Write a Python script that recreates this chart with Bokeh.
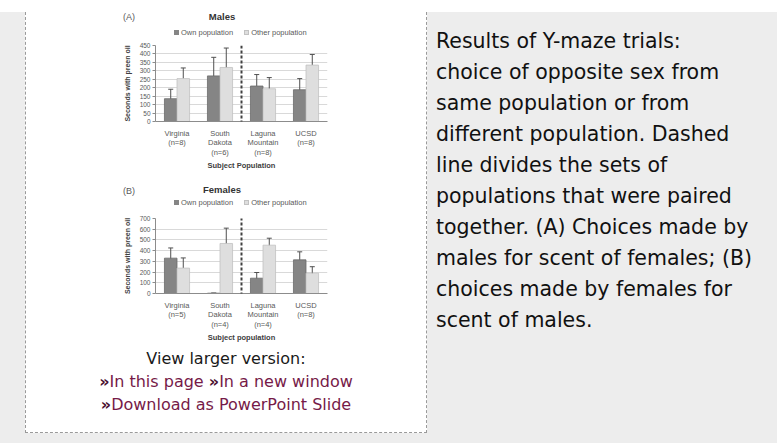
from bokeh.plotting import figure
from bokeh.models import (ColumnDataSource, Whisker, TeeHead, Arrow, Div, Spacer,
                          Range1d, FactorRange)
from bokeh.layouts import column, row
from bokeh.transform import dodge
from bokeh.embed import file_html
from bokeh.resources import INLINE

# ---------------- data ----------------
categories = ["Virginia", "South Dakota", "Laguna Mountain", "UCSD"]
pair_split_after = "South Dakota"

males_n = ["(n=8)", "(n=6)", "(n=8)", "(n=8)"]
males_own = [135, 270, 210, 188]
males_own_err = [56, 110, 68, 66]
males_other = [254, 320, 194, 334]
males_other_err = [63, 115, 66, 63]
males_ticks = [0, 50, 100, 150, 200, 250, 300, 350, 400, 450]

females_n = ["(n=5)", "(n=4)", "(n=4)", "(n=8)"]
females_own = [330, 3, 143, 314]
females_own_err = [95, 0, 53, 75]
females_other = [237, 467, 451, 190]
females_other_err = [95, 143, 65, 60]
females_ticks = [0, 100, 200, 300, 400, 500, 600, 700]

series_names = ["Own population", "Other population"]

caption_lines = [
    "Results of Y-maze trials:",
    "choice of opposite sex from",
    "same population or from",
    "different population. Dashed",
    "line divides the sets of",
    "populations that were paired",
    "together. (A) Choices made by",
    "males for scent of females; (B)",
    "choices made by females for",
    "scent of males.",
]

# ---------------- style ----------------
OWN_FILL, OWN_LINE = "#858585", "#6b6b6b"
OTH_FILL, OTH_LINE = "#dedede", "#c2c2c2"
ERR = "#505050"
TXT = "#595959"
FONT = "Liberation Sans"
GRAY_BG = "#ededed"
BORDER = "1px dashed #9a9a9a"
FRAME_W = 172


def header(tag, title, tag_top, title_top, legend_top, height):
    sq = "display:inline-block;width:5px;height:5px;vertical-align:0px;margin-right:2px;"
    html = (
        f'<div style="position:relative;width:400px;height:{height}px;'
        f"font-family:'{FONT}';color:{TXT}\">"
        f'<span style="position:absolute;left:97px;top:{tag_top}px;font-size:9px;'
        f'line-height:10px">{tag}</span>'
        f'<span style="position:absolute;left:146px;width:100px;text-align:center;'
        f'top:{title_top}px;font-size:9.5px;line-height:10px;font-weight:bold;'
        f'color:#333">{title}</span>'
        f'<span style="position:absolute;left:148px;top:{legend_top}px;font-size:7.5px;'
        f'line-height:10px;white-space:nowrap">'
        f'<span style="{sq}background:{OWN_FILL}"></span>{series_names[0]}'
        f'<span style="{sq}background:{OTH_FILL};margin-left:11px;'
        f'box-shadow:inset 0 0 0 1px {OTH_LINE}"></span>{series_names[1]}</span>'
        '</div>'
    )
    return Div(text=html, width=400, height=height, margin=0)


def make_chart(own, own_err, other, other_err, ns, ticks, xlabel,
               frame_h, top, bottom, sep_ext_top, sep_ext_bottom):
    factors = [c.replace(" ", "\n") + "\n" + n for c, n in zip(categories, ns)]
    src = ColumnDataSource(dict(
        cat=factors,
        own=own, other=other,
        own_lo=[v - e for v, e in zip(own, own_err)],
        own_hi=[v + e for v, e in zip(own, own_err)],
        oth_lo=[v - e for v, e in zip(other, other_err)],
        oth_hi=[v + e for v, e in zip(other, other_err)],
    ))
    ymax = ticks[-1]
    ppx = ymax / frame_h
    p = figure(x_range=FactorRange(*factors), y_range=Range1d(0, ymax),
               frame_width=FRAME_W, frame_height=frame_h, title=None,
               min_border_left=129, min_border_right=99,
               min_border_top=top, min_border_bottom=bottom,
               output_backend="svg", toolbar_location=None,
               background_fill_color="white", border_fill_color="white",
               outline_line_color=None, margin=0)
    off = 0.146
    p.vbar(x=dodge("cat", -off, range=p.x_range), top="own", width=0.292,
           source=src, fill_color=OWN_FILL, line_color=OWN_LINE, line_width=0.8)
    p.vbar(x=dodge("cat", off, range=p.x_range), top="other", width=0.292,
           source=src, fill_color=OTH_FILL, line_color=OTH_LINE, line_width=0.8)
    for base, lo, hi in ((-off, "own_lo", "own_hi"), (off, "oth_lo", "oth_hi")):
        p.add_layout(Whisker(base=dodge("cat", base, range=p.x_range), lower=lo, upper=hi,
                             source=src, line_color=ERR, line_width=1,
                             upper_head=TeeHead(size=5, line_color=ERR, line_width=1),
                             lower_head=TeeHead(size=5, line_color=ERR, line_width=1)))

    # dashed separator between the paired sets of populations
    sx = categories.index(pair_split_after) + 1
    p.add_layout(Arrow(end=None, x_start=sx, x_end=sx,
                       y_start=-sep_ext_bottom * ppx,
                       y_end=ymax + sep_ext_top * ppx,
                       line_color="#404040", line_width=2, line_dash="3 2"))

    p.yaxis.ticker = ticks
    p.ygrid.ticker = ticks
    p.ygrid.grid_line_color = "#d9d9d9"
    p.xgrid.grid_line_color = None
    p.yaxis.axis_line_color = "#8c8c8c"
    p.yaxis.major_tick_line_color = "#8c8c8c"
    p.yaxis.major_tick_out = 3
    p.yaxis.major_tick_in = 0
    p.yaxis.minor_tick_line_color = None
    p.yaxis.major_label_text_font = FONT
    p.yaxis.major_label_text_font_size = "6.5px"
    p.yaxis.major_label_text_color = TXT
    p.yaxis.major_label_standoff = 2
    p.yaxis.axis_label = "Seconds with preen oil"
    p.yaxis.axis_label_text_font = FONT
    p.yaxis.axis_label_text_font_size = "7px"
    p.yaxis.axis_label_text_font_style = "bold"
    p.yaxis.axis_label_text_color = "#404040"
    p.yaxis.axis_label_standoff = 6

    p.xaxis.axis_line_color = "#8c8c8c"
    p.xaxis.major_tick_line_color = None
    p.xaxis.major_tick_out = 0
    p.xaxis.major_label_text_font = FONT
    p.xaxis.major_label_text_font_size = "7.5px"
    p.xaxis.major_label_text_line_height = 1.08
    p.xaxis.major_label_text_color = TXT
    p.xaxis.major_label_standoff = 7
    p.xaxis.axis_label = xlabel
    p.xaxis.axis_label_text_font = FONT
    p.xaxis.axis_label_text_font_size = "7.5px"
    p.xaxis.axis_label_text_line_height = 1.0
    p.xaxis.axis_label_text_font_style = "bold"
    p.xaxis.axis_label_text_color = "#404040"
    p.xaxis.axis_label_standoff = 1
    return p


headA = header("(A)", "Males", 0, 0, 16, 26)
figA = make_chart(males_own, males_own_err, males_other, males_other_err,
                  males_n, males_ticks, "Subject Population",
                  frame_h=76, top=7, bottom=55, sep_ext_top=6, sep_ext_bottom=22)
headB = header("(B)", "Females", 10, 9, 22, 33)
figB = make_chart(females_own, females_own_err, females_other, females_other_err,
                  females_n, females_ticks, "Subject population",
                  frame_h=75, top=9, bottom=50, sep_ext_top=7, sep_ext_bottom=22)

LINK = "#761a48"
links_html = (
    '<div style="width:400px;text-align:center;font-family:\'DejaVu Sans\';'
    'font-size:16px;line-height:23px;color:#1a1a1a;padding-top:3px;white-space:nowrap">'
    'View larger version:<br>'
    f'<span style="color:{LINK}"><b style="color:#4a1030">»</b>In this page '
    '<b style="color:#4a1030">»</b>In a new window<br>'
    '<b style="color:#4a1030">»</b>Download as PowerPoint Slide</span></div>'
)
links = Div(text=links_html, width=400, height=88, margin=0)

left_box = column(headA, figA, headB, figB, links, margin=0, spacing=0,
                  styles={"background-color": "white", "border-left": BORDER,
                          "border-right": BORDER, "border-bottom": BORDER})

caption_html = (
    '<div style="padding:14px 0 0 9px;font-family:\'DejaVu Sans\';font-size:20.5px;'
    'line-height:31px;color:#111;white-space:nowrap">'
    + "<br>".join(caption_lines) + "</div>"
)
caption = Div(text=caption_html, width=350, height=420, margin=0)

left_col = column(left_box, Spacer(width=402, height=10, margin=0), margin=0, spacing=0)
gray_row = row(Spacer(width=25, height=430, margin=0), left_col, caption,
               margin=0, spacing=0, styles={"background-color": GRAY_BG})
page = column(Spacer(width=777, height=12, margin=0), gray_row, margin=0, spacing=0)

open("out.html", "w").write(file_html(page, INLINE))
